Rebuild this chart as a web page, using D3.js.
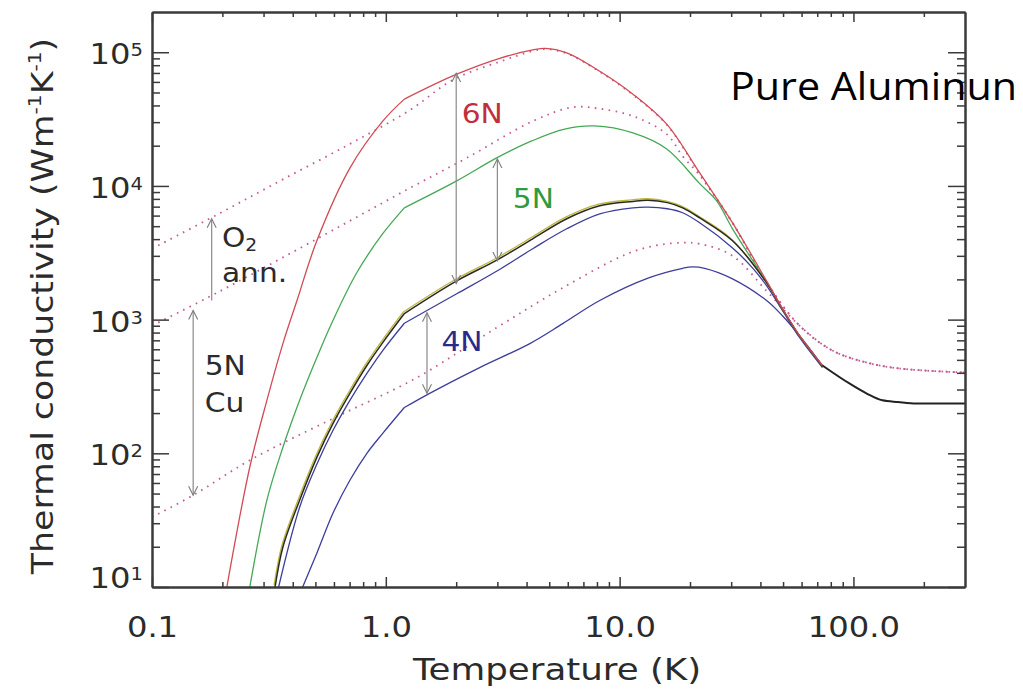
<!DOCTYPE html>
<html>
<head>
<meta charset="utf-8">
<script src="https://cdn.jsdelivr.net/npm/d3@7"></script>
<style>
  body { margin: 0; background: #fff; }
  svg { display: block; }
  text { font-family: "DejaVu Sans", sans-serif; fill: #2b2b2b; }
</style>
</head>
<body>
<div id="chart"></div>
<script>
// ---- data (T in K, k in W m^-1 K^-1) ----
var xTicks = [0.1, 1, 10, 100];
var yTicks = [1e1, 1e2, 1e3, 1e4, 1e5];
var yExp = ["1", "2", "3", "4", "5"];

// Al 6N (red)
var t6N = [0.209, 0.262, 0.31, 0.363, 0.417, 0.507, 0.702, 0.97, 1.2, 2.01, 3.07, 4.25, 4.8, 5.94, 8.22, 11.4, 15.9, 22.0, 30.4, 42.5, 49.7, 58.8, 73.7];
var k6N = [10, 79, 249, 662, 1390, 3890, 13600, 30500, 44600, 68500, 90100, 104000, 107000, 99000, 72100, 48600, 29000, 12500, 5300, 1950, 1210, 760, 454];

// Al 5N (green)
var t5N = [0.262, 0.31, 0.363, 0.428, 0.507, 0.594, 0.751, 0.97, 1.2, 2.01, 2.98, 4.21, 5.82, 7.82, 11.4, 15.9, 22.0, 26.0, 30.4, 42.5, 49.7, 58.8, 73.7];
var k5N = [10, 44.6, 111, 249, 520, 984, 2240, 4390, 6860, 10900, 16200, 21700, 26600, 28100, 24900, 18900, 10400, 7730, 4780, 1900, 1200, 755, 450];

// dark curve (black / olive)
var tBlk = [0.336, 0.363, 0.428, 0.507, 0.594, 0.702, 0.83, 0.97, 1.2, 2.01, 3.0, 4.25, 5.94, 8.22, 11.4, 13.2, 16.0, 18.6, 22.0, 30.4, 42.5, 49.7, 58.8, 73.7];
var kBlk = [10, 19.9, 44.6, 93.3, 167, 281, 454, 673, 1110, 1950, 2800, 4020, 5680, 7100, 7650, 7800, 7500, 6860, 5770, 3890, 1890, 1200, 755, 450];

// Al 4N upper and lower (blue)
var t4Nhi = [0.348, 0.428, 0.507, 0.594, 0.702, 0.83, 0.97, 1.2, 2.01, 3.0, 4.25, 5.94, 8.22, 11.4, 13.2, 16.0, 18.6, 22.0, 30.4, 37.0, 42.5, 49.7, 58.8, 73.7];
var k4Nhi = [10, 39.5, 82.8, 148, 249, 396, 587, 940, 1560, 2320, 3390, 4780, 6180, 6860, 6950, 6750, 6300, 5300, 3440, 2440, 1795, 1170, 735, 438];
var t4Nlo = [0.441, 0.507, 0.594, 0.702, 0.83, 0.97, 1.2, 1.54, 2.52, 4.13, 5.71, 8.22, 13.4, 18.6, 20.5, 23.1, 30.4, 42.5, 49.7, 58.8, 69.5, 73.7];
var k4Nlo = [10, 17.9, 35.6, 62.9, 100, 141, 220, 281, 438, 662, 933, 1390, 2060, 2420, 2480, 2420, 2020, 1390, 1070, 760, 520, 450];

// common high temperature tail
var tTail = [73.7, 96.1, 113.6, 133, 155, 186, 300];
var kTail = [454, 333, 281, 249, 242, 236, 236];

// copper (dotted): O2 annealed, 5N, lowest
var tCuO2 = [0.1, 0.19, 0.363, 0.702, 1.27, 1.93, 3.07, 4.25, 4.8, 5.94, 8.22, 11.4, 15.9, 22.0, 30.4, 42.5, 58.8, 81.3, 113.6, 157, 300];
var kCuO2 = [3390, 6100, 11200, 20600, 37000, 62000, 85000, 102000, 105500, 98000, 71500, 48000, 28700, 12300, 5300, 1900, 902, 587, 478, 431, 402];
var tCu5N = [0.1, 0.19, 0.363, 0.702, 1.27, 2.22, 4.25, 6.3, 8.22, 11.4, 15.9, 18.6, 22.0, 30.4, 42.5, 58.8, 81.3, 113.6, 157, 300];
var kCu5N = [900, 1590, 2920, 5480, 9660, 16200, 30500, 38800, 37800, 33300, 24400, 16700, 12000, 5300, 1900, 902, 587, 478, 431, 402];
var tCuLo = [0.1, 0.15, 0.262, 0.594, 1.36, 2.98, 5.71, 10.8, 14.5, 18.6, 22.0, 30.4, 42.5, 58.8, 81.3, 113.6, 157, 300];
var kCuLo = [33.3, 48.6, 88.7, 182, 369, 871, 1730, 3110, 3600, 3760, 3690, 3000, 1640, 902, 587, 478, 431, 402];

// arrows (T, lower k, upper k, heads)
var arrowT = [0.18, 0.15, 2.0, 3.0, 1.5];
var arrowLo = [1390, 48.6, 1860, 2750, 281];
var arrowHi = [5680, 1170, 69600, 15900, 1127];
var arrowBoth = [false, true, true, true, true];

// ---- frame ----
var margin = {top: 12, right: 58, bottom: 102, left: 152};
var width = 1023 - margin.left - margin.right,
    height = 689 - margin.top - margin.bottom;

var svg = d3.select("#chart").append("svg")
    .attr("width", 1023)
    .attr("height", 689);

var x = d3.scaleLog().domain([0.1, 300]).range([margin.left, margin.left + width]);
var y = d3.scaleLog().domain([10, 2e5]).range([margin.top + height, margin.top]);

svg.append("clipPath").attr("id", "plotclip")
  .append("rect")
    .attr("x", margin.left).attr("y", margin.top)
    .attr("width", width).attr("height", height);

var defs = svg.append("defs");
defs.append("marker")
    .attr("id", "ah")
    .attr("markerUnits", "userSpaceOnUse")
    .attr("markerWidth", 12).attr("markerHeight", 12)
    .attr("refX", 9).attr("refY", 6)
    .attr("orient", "auto-start-reverse")
  .append("path")
    .attr("d", "M0,1.5 L9,6 L0,10.5")
    .attr("fill", "none")
    .attr("stroke", "#7d7d7d")
    .attr("stroke-width", 1.1);

// smooth curves through the read points
var line = d3.line()
    .x(function(d){ return x(d[0]); })
    .y(function(d){ return y(d[1]); })
    .curve(d3.curveCatmullRom.alpha(0.5));

var flatLine = d3.line()
    .x(function(d){ return x(d[0]); })
    .y(function(d){ return y(d[1]); })
    .curve(d3.curveMonotoneX);

function pts(T, K) {
    return T.map(function(t, i){ return [t, K[i]]; });
}

// superconducting kink at 1.2 K: draw both sides separately so it stays sharp
function kinked(T, K) {
    var p = pts(T, K);
    var i = T.indexOf(1.2);
    if (i < 0) return line(p);
    return line(p.slice(0, i + 1)) + line(p.slice(i));
}

var plot = svg.append("g").attr("clip-path", "url(#plotclip)");

var dotted = [[tCuLo, kCuLo], [tCu5N, kCu5N], [tCuO2, kCuO2]];
dotted.forEach(function(s){
    plot.append("path")
        .attr("d", line(pts(s[0], s[1])))
        .attr("fill", "none")
        .attr("stroke", "#c45a98")
        .attr("stroke-width", 1.8)
        .attr("stroke-dasharray", "1.6,5.4");
});

var solids = [
    {T: t4Nlo, K: k4Nlo, c: "#3d3d9c", w: 1.3},
    {T: t4Nhi, K: k4Nhi, c: "#3d3d9c", w: 1.3},
    {T: t5N,   K: k5N,   c: "#45a855", w: 1.3},
    {T: tBlk,  K: kBlk,  c: "#bdb63c", w: 1.3, shift: "translate(-1,-1.6)"},
    {T: tBlk,  K: kBlk,  c: "#2a2a20", w: 1.5},
    {T: t6N,   K: k6N,   c: "#d24a55", w: 1.3}
];
solids.forEach(function(s){
    plot.append("path")
        .attr("d", kinked(s.T, s.K))
        .attr("transform", s.shift || null)
        .attr("fill", "none")
        .attr("stroke", s.c)
        .attr("stroke-width", s.w);
});

plot.append("path")
    .attr("d", flatLine(pts(tTail, kTail)))
    .attr("fill", "none")
    .attr("stroke", "#222")
    .attr("stroke-width", 2);

// arrows
arrowT.forEach(function(t, i){
    svg.append("line")
        .attr("x1", x(t)).attr("x2", x(t))
        .attr("y1", y(arrowLo[i])).attr("y2", y(arrowHi[i]))
        .attr("stroke", "#8a8a8a")
        .attr("stroke-width", 1.2)
        .attr("marker-end", "url(#ah)")
        .attr("marker-start", arrowBoth[i] ? "url(#ah)" : null);
});

// ---- axes (box with ticks on all sides) ----
var xMinor = [], yMinor = [];
[0.1, 1, 10, 100].forEach(function(d){
    for (var m = 2; m <= 9; m++) if (m * d < 300) xMinor.push(m * d);
});
[10, 100, 1000, 10000].forEach(function(d){
    for (var m = 2; m <= 9; m++) yMinor.push(m * d);
});

function styleAxis(g) {
    g.select(".domain").attr("stroke", "#3a3a3a").attr("stroke-width", 2);
    g.selectAll(".tick line").attr("stroke", "#3a3a3a").attr("stroke-width", 1.5);
}

var axes = [
    {fn: d3.axisBottom(x).tickValues(xTicks).tickSizeInner(-10).tickPadding(30).tickFormat(d3.format(".1f")), tr: "translate(0," + (margin.top + height) + ")", lab: true},
    {fn: d3.axisBottom(x).tickValues(xMinor).tickSizeInner(-5).tickFormat(""), tr: "translate(0," + (margin.top + height) + ")"},
    {fn: d3.axisTop(x).tickValues(xTicks).tickSizeInner(-10).tickFormat(""), tr: "translate(0," + margin.top + ")"},
    {fn: d3.axisTop(x).tickValues(xMinor).tickSizeInner(-5).tickFormat(""), tr: "translate(0," + margin.top + ")"},
    {fn: d3.axisLeft(y).tickValues(yTicks).tickSizeInner(-17).tickFormat(""), tr: "translate(" + margin.left + ",0)"},
    {fn: d3.axisLeft(y).tickValues(yMinor).tickSizeInner(-8).tickFormat(""), tr: "translate(" + margin.left + ",0)"},
    {fn: d3.axisRight(y).tickValues(yTicks).tickSizeInner(-17).tickFormat(""), tr: "translate(" + (margin.left + width) + ",0)"},
    {fn: d3.axisRight(y).tickValues(yMinor).tickSizeInner(-8).tickFormat(""), tr: "translate(" + (margin.left + width) + ",0)"}
];
axes.forEach(function(a){
    var g = svg.append("g")
        .attr("transform", a.tr)
        .call(a.fn.tickSizeOuter(0));
    styleAxis(g);
    if (a.lab) {
        g.attr("font-family", "DejaVu Sans").attr("font-size", 28);
        g.selectAll(".tick text")
            .attr("fill", "#2b2b2b")
            .attr("transform", "scale(1.15,1)");
    }
});

// y tick labels as 10^n
yTicks.forEach(function(v, i){
    var t = svg.append("text")
        .attr("transform", "translate(143," + Math.min(y(v) + 12, 588) + ") scale(1.15,1)")
        .attr("text-anchor", "end")
        .style("font-size", "28px");
    t.append("tspan").text("10");
    t.append("tspan").attr("dy", -8).style("font-size", "17px").text(yExp[i]);
});

// axis titles
svg.append("text")
    .attr("transform", "translate(557,680) scale(1.15,1)")
    .attr("text-anchor", "middle")
    .style("font-size", "31px")
    .text("Temperature (K)");

var yt = svg.append("text")
    .attr("transform", "translate(53,306) rotate(-90) scale(1.12,1)")
    .attr("text-anchor", "middle")
    .style("font-size", "31px");
yt.append("tspan").text("Thermal conductivity (Wm");
yt.append("tspan").attr("dy", -12).style("font-size", "18px").text("-1");
yt.append("tspan").attr("dy", 12).text("K");
yt.append("tspan").attr("dy", -12).style("font-size", "18px").text("-1");
yt.append("tspan").attr("dy", 12).text(")");

// curve labels
function label(T, K, color, parts) {
    var t = svg.append("text")
        .attr("transform", "translate(" + x(T) + "," + y(K) + ") scale(1.1,1)")
        .style("font-size", "27px")
        .style("fill", color);
    parts.forEach(function(p){
        var s = t.append("tspan").text(p.s);
        if (p.dy) s.attr("dy", p.dy);
        if (p.fs) s.style("font-size", p.fs);
    });
}
label(2.11, 29500, "#c0303c", [{s: "6N"}]);
label(3.49, 6860, "#2f9a3f", [{s: "5N"}]);
label(1.73, 587, "#2a2a8a", [{s: "4N"}]);
label(0.199, 3520, "#2b2b2b", [{s: "O"}, {s: "2", dy: 4, fs: "17px"}]);
label(0.199, 1900, "#2b2b2b", [{s: "ann."}]);
label(0.168, 382, "#2b2b2b", [{s: "5N"}]);
label(0.168, 202, "#2b2b2b", [{s: "Cu"}]);

// slide caption
svg.append("text")
    .attr("x", 730)
    .attr("y", 100)
    .attr("textLength", 287)
    .attr("lengthAdjust", "spacingAndGlyphs")
    .style("font-family", "'Open Sans'")
    .style("font-size", "38px")
    .style("fill", "#000")
    .text("Pure Aluminun");
</script>
</body>
</html>
